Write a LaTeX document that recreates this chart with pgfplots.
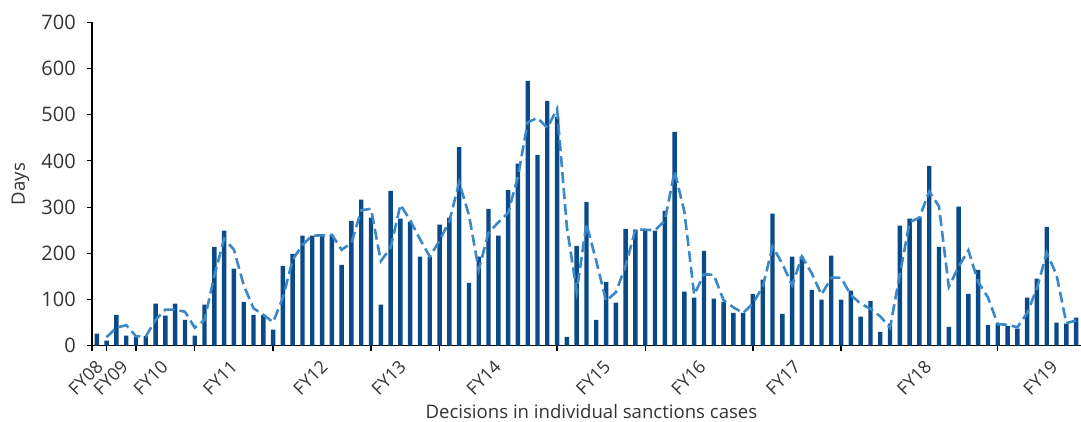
\documentclass[border=0pt]{standalone}
\usepackage{fontspec}
\setmainfont{Open Sans}
\usepackage{pgfplots}
\usepackage{pgfplotstable}
\pgfplotsset{compat=1.18}
\definecolor{barblue}{HTML}{0A4A88}
\definecolor{lineblue}{HTML}{3B88C8}
\definecolor{txt}{HTML}{333333}

\pgfplotstableread{
x y
0 26
1 11
2 67
3 22
4 19
5 21
6 91
7 65
8 91
9 56
10 22
11 89
12 214
13 249
14 167
15 95
16 67
17 67
18 35
19 173
20 199
21 238
22 238
23 240
24 240
25 175
26 270
27 316
28 277
29 89
30 335
31 275
32 268
33 193
34 193
35 262
36 277
37 430
38 136
39 193
40 296
41 238
42 337
43 394
44 573
45 413
46 530
47 495
48 19
49 216
50 311
51 56
52 138
53 93
54 253
55 251
56 251
57 249
58 292
59 463
60 117
61 104
62 205
63 102
64 95
65 71
66 71
67 112
68 143
69 286
70 69
71 193
72 193
73 121
74 100
75 195
76 100
77 119
78 63
79 97
80 30
81 48
82 260
83 275
84 279
85 389
86 214
87 41
88 301
89 112
90 164
91 45
92 48
93 43
94 37
95 104
96 145
97 257
98 50
99 48
100 61
}\bars

\pgfplotstableread{
x y
1 18.5
2 39
3 44.5
4 20.5
5 20
6 56
7 78
8 78
9 73.5
10 39
11 55.5
12 151.5
13 231.5
14 208
15 131
16 81
17 67
18 51
19 104
20 186
21 218.5
22 238
23 239
24 240
25 207.5
26 222.5
27 293
28 296.5
29 183
30 212
31 305
32 271.5
33 230.5
34 193
35 227.5
36 269.5
37 353.5
38 283
39 164.5
40 244.5
41 267
42 287.5
43 365.5
44 483.5
45 493
46 471.5
47 512.5
48 257
49 117.5
50 263.5
51 183.5
52 97
53 115.5
54 173
55 252
56 251
57 250
58 270.5
59 377.5
60 290
61 110.5
62 154.5
63 153.5
64 98.5
65 83
66 71
67 91.5
68 127.5
69 214.5
70 177.5
71 131
72 193
73 157
74 110.5
75 147.5
76 147.5
77 109.5
78 91
79 80
80 63.5
81 39
82 154
83 267.5
84 277
85 334
86 301.5
87 127.5
88 171
89 206.5
90 138
91 104.5
92 46.5
93 45.5
94 40
95 70.5
96 124.5
97 201
98 153.5
99 49
100 54.5
}\avg

\begin{document}
\begin{tikzpicture}
\begin{axis}[
  scale only axis,
  width=494.9pt, height=161.85pt,
  xmin=-0.5, xmax=100.5, ymin=0, ymax=700,
  axis x line*=bottom, axis y line*=left,
  axis line style={black, line width=0.6pt, -},
  tick align=outside,
  major tick length=2.5pt,
  tick style={black, line width=0.6pt},
  ytick={0,100,...,700},
  xtick={-0.5,1,4,10,18,28,35,47,56,67,76,92},
  xticklabels={,,,,,,,,,,,},
  extra x ticks={-0.2,2.35,6.45,13.55,22.75,30.75,40.45,51.65,61.35,71.05,84.4,97.3},
  extra x tick labels={FY08,FY09,FY10,FY11,FY12,FY13,FY14,FY15,FY16,FY17,FY18,FY19},
  extra x tick style={major tick length=0pt},
  x tick label style={rotate=45, anchor=north east, inner sep=0pt, font=\fontsize{8.9}{11}\selectfont},
  xticklabel shift=6.5pt,
  y tick label style={inner sep=0pt, font=\fontsize{10}{12}\selectfont},
  yticklabel shift=5.4pt,
  ticklabel style={text=txt},
  /pgf/number format/assume math mode=true,
  ylabel={Days},
  xlabel={Decisions in individual sanctions cases},
  label style={font=\fontsize{9.3}{11}\selectfont, text=txt},
  ylabel style={at={(axis description cs:-0.0722,0.5)}, anchor=center},
  xlabel style={at={(axis description cs:0.505,-0.2255)}, anchor=base},
  clip=false,
]
\addplot[ybar, bar width=2.2pt, fill=barblue, draw=none] table[x=x,y=y] {\bars};
\addplot[lineblue, line width=1.3pt, dash pattern=on 5.5pt off 2.5pt, mark=none] table[x=x,y=y] {\avg};
\end{axis}
\pgfresetboundingbox
\path[use as bounding box] ([shift={(-46pt,-38pt)}]current axis.south west) rectangle ([shift={(0pt,11.15pt)}]current axis.north east);
\end{tikzpicture}
\end{document}
